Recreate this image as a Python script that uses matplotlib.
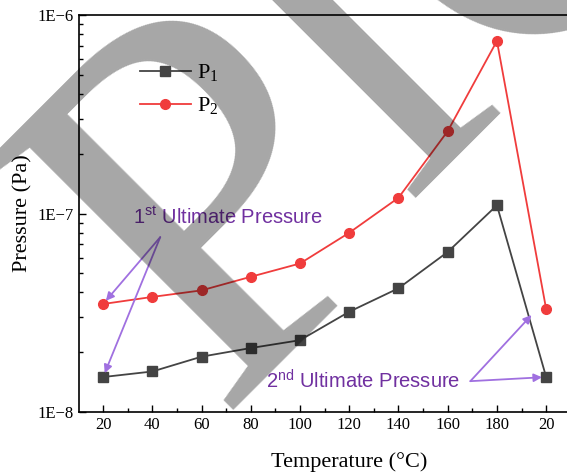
import matplotlib
matplotlib.use('Agg')
import matplotlib.pyplot as plt

temp_labels = ['20', '40', '60', '80', '100', '120', '140', '160', '180', '20']
p1 = [1.5e-8, 1.6e-8, 1.9e-8, 2.1e-8, 2.3e-8, 3.2e-8, 4.2e-8, 6.4e-8, 1.1e-7, 1.5e-8]
p2 = [3.5e-8, 3.8e-8, 4.1e-8, 4.8e-8, 5.6e-8, 8.0e-8, 1.2e-7, 2.6e-7, 7.4e-7, 3.3e-8]

plt.rcParams['font.family'] = ['Liberation Serif', 'DejaVu Serif']
plt.rcParams['mathtext.fontset'] = 'custom'
plt.rcParams['mathtext.rm'] = 'Liberation Serif'
plt.rcParams['mathtext.sf'] = 'Liberation Sans'

fig = plt.figure(figsize=(5.67, 4.73), dpi=100)
# right part of the frame runs past the picture edge, as in the original
ax = fig.add_axes([79 / 567, 1 - 412 / 473, 541 / 567, 397 / 473])

x = list(range(len(temp_labels)))
ax.plot(x, p1, color='#444444', marker='s', markersize=6.5, lw=1.3, label='P$_1$')
ax.plot(x, p2, color='#f03c3c', marker='o', markersize=7, lw=1.3, label='P$_2$')

ax.set_yscale('log')
ax.set_ylim(1e-8, 1e-6)
ax.set_xlim(-0.49, 10.5)
ax.set_xticks(x)
ax.set_xticklabels(temp_labels)
ax.set_xticks([i + 0.5 for i in x[:-1]], minor=True)
ax.set_yticks([1e-8, 1e-7, 1e-6])
ax.set_yticklabels(['1E\u22128', '1E\u22127', '1E\u22126'])
ax.tick_params(which='both', direction='in', labelsize=12)
ax.tick_params(which='major', length=5, width=1)
ax.tick_params(which='minor', length=3, width=1)
ax.spines['right'].set_visible(False)
for s in ['left', 'bottom', 'top']:
    ax.spines[s].set_linewidth(1.2)

ax.set_xlabel('Temperature (\u00b0C)', fontsize=16, labelpad=14)
ax.set_ylabel('Pressure (Pa)', fontsize=16, labelpad=4)

ax.legend(loc='upper left', bbox_to_anchor=(0.075, 0.93), frameon=False,
          fontsize=16, handlelength=2.3, labelspacing=0.5, handletextpad=0.3)

# annotations
txt_col = '#7030a0'
arr_col = '#a070e0'
arrow = dict(arrowstyle='-|>', color=arr_col, lw=1.3, mutation_scale=12, shrinkA=0, shrinkB=3)
ax.text(0.6, 9.6e-8, '1$^{\\mathsf{st}}$ Ultimate Pressure', color=txt_col, fontsize=14.5,
        family='Liberation Sans', va='center')
ax.annotate('', xy=(x[0], p2[0]), xytext=(1.16, 7.6e-8), arrowprops=arrow)
ax.annotate('', xy=(x[0], p1[0]), xytext=(1.16, 7.6e-8), arrowprops=arrow)
ax.text(7.26, 1.43e-8, '2$^{\\mathsf{nd}}$ Ultimate Pressure', color=txt_col, fontsize=14.5,
        family='Liberation Sans', va='center', ha='right')
ax.annotate('', xy=(x[-1], p1[-1]), xytext=(7.46, 1.43e-8), arrowprops=arrow)
ax.annotate('', xy=(8.76, 3.19e-8), xytext=(7.46, 1.43e-8), arrowprops=arrow)

# grey watermark letters lying over the whole chart
wm = dict(rotation=45, rotation_mode='anchor', va='baseline',
          family='Liberation Serif', color='black', alpha=0.35, zorder=10)
fig.text(0.379, 0.129, 'P', ha='left', fontsize=385, **wm)
fig.text(0.800, 0.695, 'I', ha='center', fontsize=330, **wm)
fig.text(0.8995, 0.793, 'C', ha='left', fontsize=385, **wm)

fig.savefig('out.png', dpi=100)
